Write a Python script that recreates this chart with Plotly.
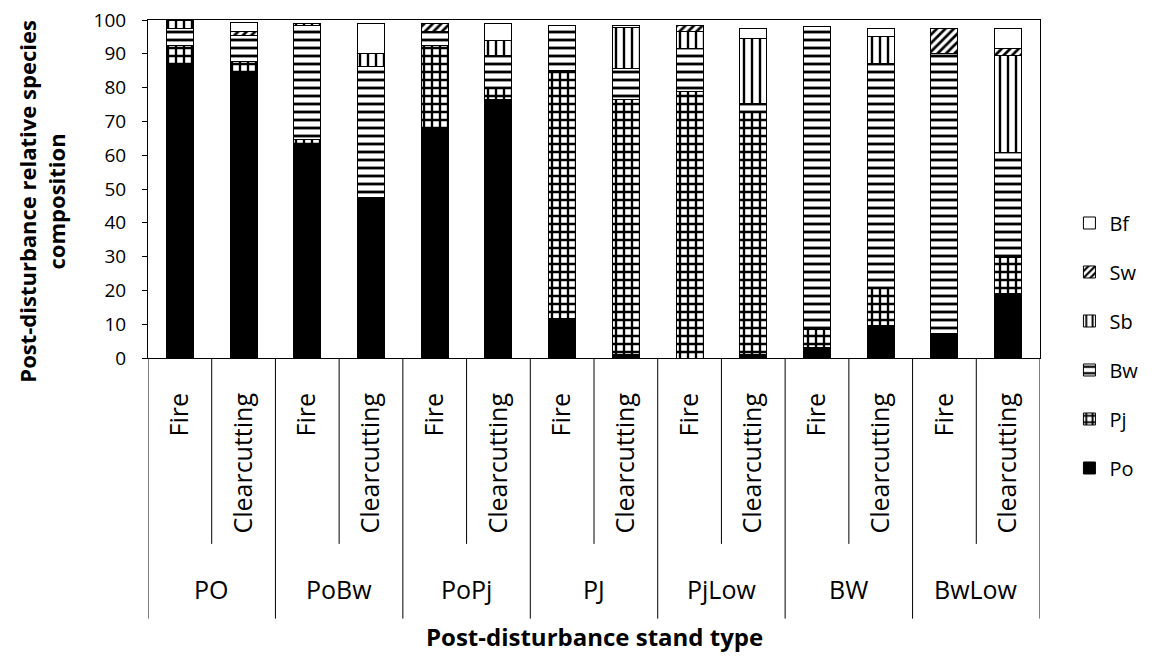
import plotly.graph_objects as go

groups = ["PO", "PoBw", "PoPj", "PJ", "PjLow", "BW", "BwLow"]
disturbances = ["Fire", "Clearcutting"]

Po = [86.5, 84.7, 63.1, 47.4, 67.5, 76.4, 11.7, 1.0, 0.0, 1.0, 3.0, 9.7, 7.3, 19.0]
Pj = [6.1, 2.9, 1.5, 0.0, 25.0, 3.4, 73.5, 75.4, 78.8, 71.9, 5.3, 10.8, 0.0, 10.8]
Bw = [4.8, 7.9, 33.8, 38.8, 4.0, 9.8, 13.2, 9.3, 12.8, 2.5, 89.7, 66.6, 82.8, 30.9]
Sb = [2.6, 0.0, 0.5, 3.9, 0.0, 4.4, 0.0, 12.2, 5.0, 19.1, 0.0, 7.9, 0.0, 28.9]
Sw = [0.0, 1.0, 0.0, 0.0, 2.4, 0.0, 0.0, 0.0, 1.9, 0.0, 0.0, 0.0, 7.3, 2.0]
Bf = [0.0, 2.9, 0.0, 8.8, 0.0, 4.9, 0.0, 0.5, 0.0, 2.9, 0.0, 2.4, 0.0, 5.9]

species = ["Po", "Pj", "Bw", "Sb", "Sw", "Bf"]
values = [Po, Pj, Bw, Sb, Sw, Bf]
patterns = {
    "Po": dict(shape=""),
    "Pj": dict(shape="+", size=8, solidity=0.5),
    "Bw": dict(shape="-", size=8, solidity=0.35),
    "Sb": dict(shape="|", size=8, solidity=0.3),
    "Sw": dict(shape="/", size=6, solidity=0.45),
    "Bf": dict(shape=""),
}

sub_labels = [d for g in groups for d in disturbances]
xpos = list(range(len(sub_labels)))

FONT = "Open Sans"
fig = go.Figure()
for i, (name, vals) in enumerate(zip(species, values)):
    p = patterns[name]
    marker = dict(color="black" if name == "Po" else "white",
                  line=dict(color="black", width=1))
    if p["shape"]:
        marker["pattern"] = dict(shape=p["shape"], size=p["size"], solidity=p["solidity"],
                                 fgcolor="black", bgcolor="white", fillmode="replace")
    fig.add_trace(go.Bar(x=xpos, y=vals, name=name, marker=marker, legendgroup=name,
                         legendrank=100 - i))

n = len(sub_labels)
shapes = []
for k in range(n + 1):
    xb = k - 0.5
    is_group = (k % 2 == 0)
    shapes.append(dict(type="line", xref="x", yref="paper", x0=xb, x1=xb,
                       y0=0, y1=-0.771 if is_group else -0.55,
                       line=dict(color="black", width=1)))

annotations = []
for i, g in enumerate(groups):
    annotations.append(dict(text=g, x=2 * i + 0.5, xref="x", y=-0.682, yref="paper",
                            showarrow=False, xanchor="center", yanchor="middle",
                            font=dict(family=FONT, size=25, color="black")))
annotations.append(dict(text="<b>Post-disturbance stand type</b>", x=0.5, xref="paper",
                        y=-0.824, yref="paper", showarrow=False, xanchor="center",
                        yanchor="middle", font=dict(family=FONT, size=24, color="black")))
annotations.append(dict(text="<b>Post-disturbance relative species<br>composition</b>",
                        x=-0.119, xref="paper", y=0.465, yref="paper", textangle=-90,
                        showarrow=False, xanchor="center", yanchor="middle",
                        font=dict(family=FONT, size=22, color="black")))

fig.update_layout(
    width=1147, height=651,
    margin=dict(l=140, r=115, t=12, b=301),
    paper_bgcolor="white", plot_bgcolor="white",
    barmode="stack", bargap=0.576,
    font=dict(family=FONT, color="black"),
    shapes=shapes, annotations=annotations,
    legend=dict(traceorder="grouped", tracegroupgap=20,
                x=1.033, xanchor="left", y=0.037, yanchor="middle",
                font=dict(family=FONT, size=20, color="black"),
                bgcolor="rgba(0,0,0,0)"),
    xaxis=dict(range=[-0.5, n - 0.5], tickvals=xpos, ticktext=sub_labels,
               tickangle=-90, ticks="", showline=True, linecolor="black", linewidth=1,
               mirror=True, showgrid=False, zeroline=False, ticklabelstandoff=24,
               tickfont=dict(family=FONT, size=25, color="black"), automargin=False),
    yaxis=dict(range=[0, 100], dtick=10, ticks="outside", ticklen=5, tickcolor="black",
               showline=True, linecolor="black", linewidth=1, mirror=True,
               showgrid=False, zeroline=False, ticklabelstandoff=12,
               ticklabeloverflow="allow",
               tickfont=dict(family=FONT, size=19, color="black"), automargin=False),
)

fig.write_html("out.html")
